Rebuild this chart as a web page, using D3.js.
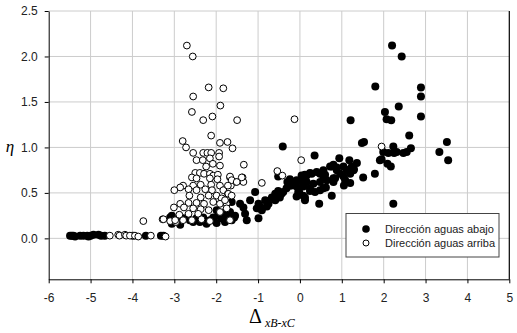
<!DOCTYPE html>
<html>
<head>
<meta charset="utf-8">
<script src="https://cdn.jsdelivr.net/npm/d3@7"></script>
<style>
  body { margin: 0; background: #fff; }
  svg { display: block; font-family: "Liberation Sans", Arial, sans-serif; }
</style>
</head>
<body>
<div id="app"></div>
<script>
// data: [Δ xB-xC, η]
var abajoPts = [
  [2.20,2.12],[2.43,2.00],[2.89,1.66],[2.89,1.56],[2.36,1.45],[2.03,1.39],[2.07,1.31],[2.18,1.30],[2.89,1.34],
  [2.61,1.13],[3.51,1.06],[3.33,0.95],[3.54,0.86],[2.23,1.01],[1.99,0.95],[2.11,0.94],[2.25,0.94],[2.47,0.94],
  [2.55,0.95],[2.65,0.99],[1.95,0.87],[2.09,0.82],[2.17,0.79],[2.23,0.38],[2.31,0.95],
  [1.80,1.67],[1.21,1.30],[1.48,1.05],[1.53,1.06],[-0.41,1.01],[0.35,0.91],[0.94,0.88],[1.18,0.86],[1.36,0.83],
  [0.76,0.79],[0.88,0.78],[1.04,0.79],[1.20,0.76],[1.29,0.76],[1.91,0.86],[1.79,0.71],[1.51,0.67],
  [0.80,0.81],[0.72,0.79],[1.24,0.79],[0.56,0.75],[0.88,0.75],[1.12,0.75],[0.40,0.73],[0.24,0.72],[0.12,0.70],
  [0.04,0.69],[0.96,0.71],[1.28,0.75],[0.56,0.68],[0.80,0.66],[1.04,0.68],[1.20,0.71],
  [-0.08,0.64],[-0.20,0.62],[0.16,0.62],[0.32,0.60],[0.48,0.62],[0.64,0.64],[0.80,0.62],[1.20,0.61],[1.05,0.58],
  [-0.08,0.57],[0.08,0.57],[0.24,0.55],[0.56,0.55],[-0.04,0.51],[0.08,0.47],[-0.08,0.46],[0.12,0.42],[0.76,0.47],
  [0.46,0.38],[-0.24,0.58],[-0.52,0.68],[-0.30,0.62],[0.00,0.64],[0.08,0.67],[0.16,0.69],[0.28,0.71],[0.48,0.71],
  [0.60,0.70],[0.84,0.66],[1.08,0.64],[0.36,0.51],[0.48,0.53],[0.62,0.56],[0.12,0.45],[0.24,0.52],
  [-1.07,0.51],[-1.19,0.42],[-1.43,0.38],[-1.63,0.40],[-0.99,0.38],[-1.03,0.33],[-0.95,0.35],[-0.83,0.42],
  [-0.79,0.35],[-0.91,0.31],[-0.75,0.38],[-0.67,0.45],[-0.59,0.49],[-0.52,0.52],[-0.44,0.49],[-0.48,0.45],
  [-0.59,0.42],[-0.32,0.55],[-0.20,0.58],[-0.12,0.62],[-0.02,0.51],[-0.24,0.65],[-1.31,0.27],[-1.27,0.20],
  [-0.99,0.22],[-1.55,0.25],[-1.67,0.29],[-1.79,0.29],[-1.63,0.20],[-1.79,0.20],[-1.35,0.34],[-1.57,0.23],
  [-0.40,0.51],[-0.55,0.49],
  [-3.10,0.23],[-2.94,0.20],[-2.79,0.22],[-2.63,0.20],[-2.47,0.22],[-2.39,0.18],[-2.31,0.23],[-2.15,0.20],
  [-2.07,0.23],[-1.95,0.25],[-1.87,0.22],[-1.75,0.20],[-1.67,0.21],[-1.59,0.23],[-3.06,0.16],[-2.86,0.15],
  [-2.55,0.18],[-2.23,0.16],[-1.99,0.17],[-1.79,0.18],[-1.99,0.31],[-1.83,0.25],[-1.71,0.22],[-3.06,0.25],
  [-5.49,0.03],[-5.45,0.03],[-5.41,0.03],[-5.37,0.02],[-5.25,0.03],[-5.17,0.03],[-5.08,0.03],[-5.05,0.02],
  [-5.00,0.03],[-4.93,0.04],[-4.81,0.04],[-4.75,0.03],[-4.66,0.03],[-3.99,0.03],[-3.68,0.03],[-3.32,0.03],[-3.26,0.03]
];

var arribaPts = [
  [-2.70,2.12],[-2.56,2.00],[-2.18,1.66],[-1.83,1.65],[-2.55,1.56],[-1.90,1.46],[-2.58,1.39],[-2.31,1.30],
  [-2.09,1.34],[-1.50,1.30],[-2.12,1.13],[-2.80,1.07],[-2.72,1.00],[-1.91,1.05],[-1.73,1.06],[-1.61,0.99],
  [-2.55,0.94],[-2.31,0.94],[-2.21,0.94],[-2.12,0.94],[-1.93,0.94],[-1.93,0.90],
  [-2.47,0.86],[-2.32,0.86],[-2.15,0.88],[-2.24,0.79],[-2.08,0.82],[-1.91,0.80],[-1.34,0.81],
  [-2.50,0.72],[-2.39,0.72],[-2.29,0.71],[-2.15,0.71],[-2.07,0.69],[-1.96,0.70],
  [-2.58,0.67],[-2.47,0.66],[-2.15,0.66],[-1.97,0.65],[-1.67,0.67],[-1.37,0.67],[-1.53,0.62],[-1.35,0.62],[-0.91,0.61],
  [-2.55,0.58],[-2.37,0.59],[-2.12,0.59],[-1.91,0.58],[-1.65,0.58],[-2.79,0.58],[-2.86,0.56],[-3.00,0.53],
  [-2.66,0.54],[-2.47,0.53],[-2.26,0.54],[-2.10,0.53],[-1.83,0.53],[-1.72,0.49],
  [-2.64,0.47],[-2.37,0.45],[-2.18,0.47],[-1.99,0.47],[-1.87,0.44],
  [-2.86,0.38],[-2.66,0.39],[-2.47,0.39],[-2.29,0.38],[-2.07,0.40],[-1.91,0.38],[-1.75,0.38],
  [-3.01,0.34],[-2.77,0.34],[-2.55,0.33],[-2.37,0.32],[-2.18,0.31],
  [-2.88,0.26],[-2.66,0.27],[-2.43,0.27],[-1.91,0.29],
  [-3.28,0.21],[-3.10,0.19],[-2.96,0.18],[-2.79,0.20],[-2.58,0.20],[-2.35,0.21],[-2.15,0.19],
  [-3.74,0.19],[-3.26,0.21],[-2.98,0.20],
  [-1.67,0.68],[-1.63,0.64],[-1.51,0.62],[-1.39,0.67],[-1.72,0.58],[-1.71,0.49],[-1.79,0.42],[-1.63,0.47],
  [-1.75,0.33],[-1.67,0.20],
  [1.95,1.01],[0.03,0.86],[-0.13,1.31],[-0.54,0.74],[-0.42,0.69],
  [-4.54,0.03],[-4.34,0.04],[-4.31,0.03],[-4.18,0.04],[-4.15,0.03],[-4.06,0.03],[-3.94,0.03],[-3.86,0.02],
  [-3.56,0.03],[-3.21,0.02]
];

var xTicks = [-6, -5, -4, -3, -2, -1, 0, 1, 2, 3, 4, 5];
var yTicks = [0, 0.5, 1.0, 1.5, 2.0, 2.5];
var seriesNames = ["Dirección aguas abajo", "Dirección aguas arriba"];

var width = 517, height = 333;
var plot = {left: 48.7, right: 509.3, top: 11, bottom: 279.3};

var svg = d3.select("#app")
  .append("svg")
    .attr("width", width)
    .attr("height", height);

var x = d3.scaleLinear().domain([-6, 5]).range([plot.left, plot.right]);
var y = d3.scaleLinear().domain([-0.45, 2.5]).range([plot.bottom, plot.top]);

// grid
svg.append("g").selectAll("line")
  .data(xTicks.slice(1, -1))
  .join("line")
    .attr("x1", d => x(d)).attr("x2", d => x(d))
    .attr("y1", plot.top).attr("y2", plot.bottom)
    .attr("stroke", "#cccccc").attr("stroke-width", 1);

svg.append("g").selectAll("line")
  .data(yTicks)
  .join("line")
    .attr("x1", plot.left).attr("x2", plot.right)
    .attr("y1", d => y(d)).attr("y2", d => y(d))
    .attr("stroke", "#cccccc").attr("stroke-width", 1);

// axes (plain hyphen for negatives, like the original)
var xAxis = svg.append("g")
  .attr("transform", "translate(0," + plot.bottom + ")")
  .call(d3.axisBottom(x).tickValues(xTicks).tickFormat(d => String(d)).tickSize(4).tickSizeOuter(0).tickPadding(10));

var yAxis = svg.append("g")
  .attr("transform", "translate(" + plot.left + ",0)")
  .call(d3.axisLeft(y).tickValues(yTicks).tickFormat(d => d.toFixed(1)).tickSize(4).tickSizeOuter(0).tickPadding(7));

[xAxis, yAxis].forEach(function(a) {
  a.select(".domain").attr("stroke", "#000");
  a.selectAll(".tick line").attr("stroke", "#000");
  a.selectAll("text")
    .attr("font-family", "'Liberation Sans', Arial, sans-serif")
    .attr("font-size", 12)
    .attr("fill", "#222");
});

// right border
svg.append("line")
  .attr("x1", plot.right).attr("x2", plot.right)
  .attr("y1", plot.top).attr("y2", plot.bottom)
  .attr("stroke", "#000").attr("stroke-width", 1.2);

// points
svg.append("g").selectAll("circle")
  .data(abajoPts)
  .join("circle")
    .attr("cx", d => x(d[0]))
    .attr("cy", d => y(d[1]))
    .attr("r", 4)
    .attr("fill", "#000");

svg.append("g").selectAll("circle")
  .data(arribaPts)
  .join("circle")
    .attr("cx", d => x(d[0]))
    .attr("cy", d => y(d[1]))
    .attr("r", 3.4)
    .attr("fill", "#fff")
    .attr("stroke", "#000")
    .attr("stroke-width", 1);

// axis titles
svg.append("text")
  .attr("x", 10).attr("y", 152)
  .attr("text-anchor", "middle")
  .attr("font-family", "'Liberation Serif', 'Times New Roman', serif")
  .attr("font-style", "italic")
  .attr("font-size", 17)
  .text("η");

var xl = svg.append("text")
  .attr("x", 249).attr("y", 323)
  .attr("font-family", "'Liberation Serif', 'Times New Roman', serif");
xl.append("tspan").attr("font-size", 20).text("Δ");
xl.append("tspan")
  .attr("font-size", 12)
  .attr("font-style", "italic")
  .attr("dx", 3).attr("dy", 4)
  .text("xB-xC");

// legend
var lg = svg.append("g");
lg.append("rect")
  .attr("x", 346).attr("y", 213.5)
  .attr("width", 153).attr("height", 43.5)
  .attr("fill", "#fff")
  .attr("stroke", "#444").attr("stroke-width", 1);

seriesNames.forEach(function(name, i) {
  var cy = 229 + i * 14;
  var c = lg.append("circle").attr("cx", 366).attr("cy", cy);
  if (i === 0) c.attr("r", 3.8).attr("fill", "#000");
  else c.attr("r", 3).attr("fill", "#fff").attr("stroke", "#000");
  lg.append("text")
    .attr("x", 385).attr("y", cy + 4)
    .attr("font-size", 11)
    .attr("fill", "#222")
    .text(name);
});
</script>
</body>
</html>
